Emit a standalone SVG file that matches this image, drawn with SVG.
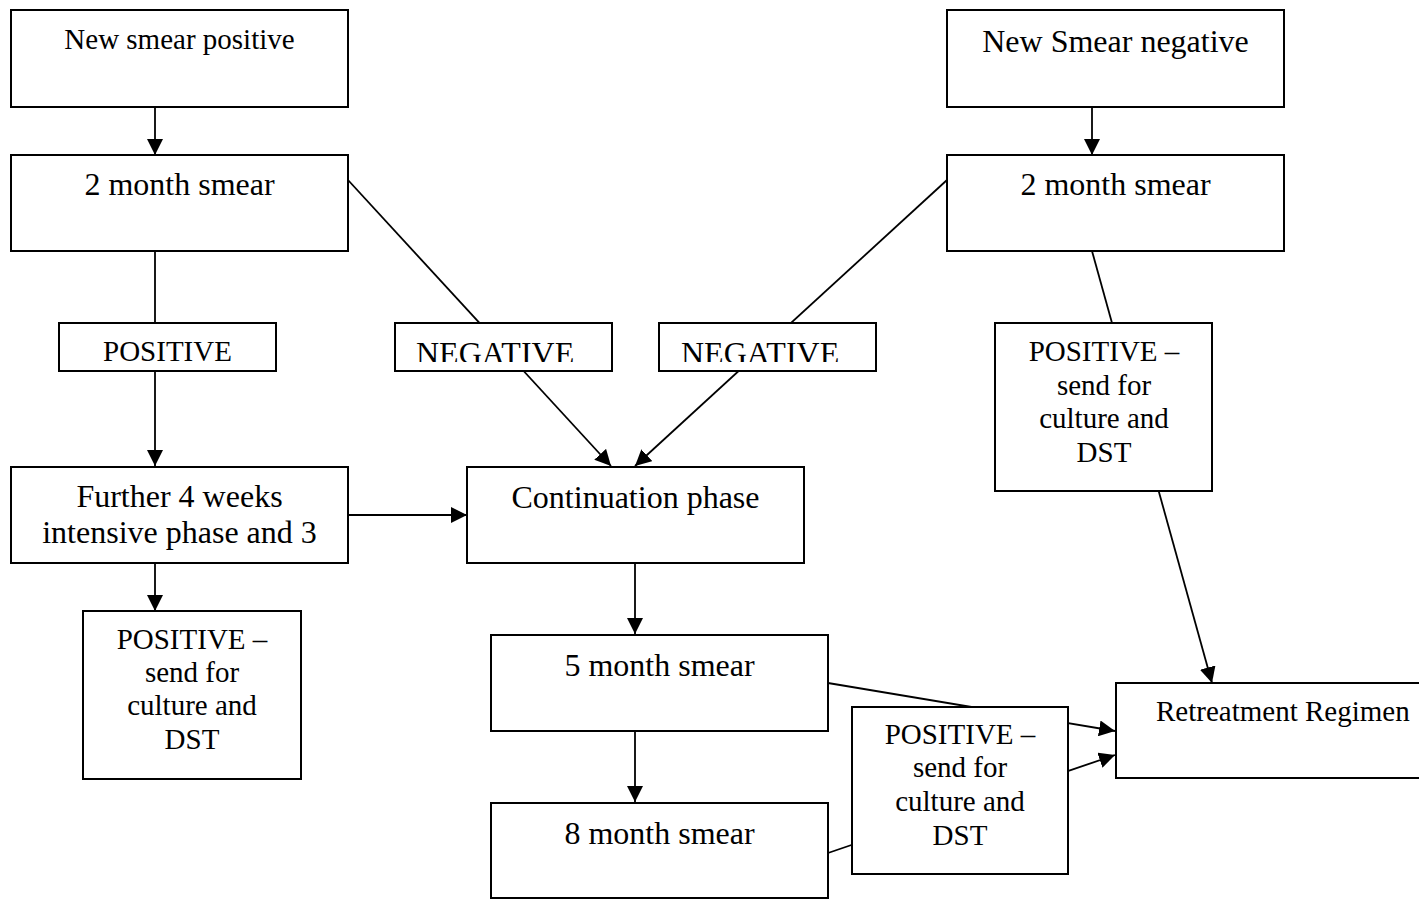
<svg xmlns="http://www.w3.org/2000/svg" width="1419" height="899" viewBox="0 0 1419 899">
<style>
  .box { fill: #ffffff; stroke: #000000; stroke-width: 2; }
  .t32 { font-family: "Liberation Serif", "Times New Roman", serif; font-size: 32px; fill: #000; }
  .t29 { font-family: "Liberation Serif", "Times New Roman", serif; font-size: 29px; fill: #000; }
  .c { text-anchor: middle; }
  .arr { stroke: #000; stroke-width: 1.8; fill: none; marker-end: url(#ah); }
</style>
<defs>
  <marker id="ah" markerUnits="userSpaceOnUse" markerWidth="17" markerHeight="16" refX="16" refY="8" orient="auto">
    <path d="M0,0 L16,8 L0,16 z" fill="#000"/>
  </marker>
  <clipPath id="clipNeg">
    <rect x="0" y="0" width="1419" height="362"/>
  </clipPath>
</defs>
<rect width="1419" height="899" fill="#ffffff"/>
<g id="connectors">
  <line class="arr" x1="155" y1="107" x2="155" y2="155"/>
  <line class="arr" x1="1092" y1="107" x2="1092" y2="155"/>
  <line class="arr" x1="155" y1="251" x2="155" y2="466"/>
  <line class="arr" x1="348" y1="180" x2="611" y2="466"/>
  <line class="arr" x1="947" y1="180" x2="635" y2="466"/>
  <line class="arr" x1="1092" y1="251" x2="1212" y2="683"/>
  <line class="arr" x1="348" y1="515" x2="467" y2="515"/>
  <line class="arr" x1="155" y1="563" x2="155" y2="611"/>
  <line class="arr" x1="635" y1="563" x2="635" y2="634"/>
  <line class="arr" x1="635" y1="730" x2="635" y2="802"/>
  <line class="arr" x1="828" y1="683" x2="1115" y2="731"/>
  <line class="arr" x1="828" y1="853" x2="1115" y2="755"/>
</g>
<g id="new-smear-positive">
  <rect class="box" x="11" y="10" width="337" height="97"/>
  <text class="t29 c" x="179.5" y="49">New smear positive</text>
</g>
<g id="new-smear-negative">
  <rect class="box" x="947" y="10" width="337" height="97"/>
  <text class="t32 c" x="1115.5" y="52">New Smear negative</text>
</g>
<g id="two-month-left">
  <rect class="box" x="11" y="155" width="337" height="96"/>
  <text class="t32 c" x="179.5" y="195">2 month smear</text>
</g>
<g id="two-month-right">
  <rect class="box" x="947" y="155" width="337" height="96"/>
  <text class="t32 c" x="1115.5" y="195">2 month smear</text>
</g>
<g id="positive-left">
  <rect class="box" x="59" y="323" width="217" height="48"/>
  <text class="t29 c" x="167.5" y="361">POSITIVE</text>
</g>
<g id="negative-left">
  <rect class="box" x="395" y="323" width="217" height="48"/>
  <text class="t32" x="416" y="364" clip-path="url(#clipNeg)">NEGATIVE</text>
</g>
<g id="negative-right">
  <rect class="box" x="659" y="323" width="217" height="48"/>
  <text class="t32" x="681" y="364" clip-path="url(#clipNeg)">NEGATIVE</text>
</g>
<g id="positive-right-top">
  <rect class="box" x="995" y="323" width="217" height="168"/>
  <text class="t29 c" x="1104" y="361">POSITIVE –</text>
  <text class="t29 c" x="1104" y="395">send for</text>
  <text class="t29 c" x="1104" y="428">culture and</text>
  <text class="t29 c" x="1104" y="462">DST</text>
</g>
<g id="further-4-weeks">
  <rect class="box" x="11" y="467" width="337" height="96"/>
  <text class="t32 c" x="179.5" y="507">Further 4 weeks</text>
  <text class="t32 c" x="179.5" y="543">intensive phase and 3</text>
</g>
<g id="continuation-phase">
  <rect class="box" x="467" y="467" width="337" height="96"/>
  <text class="t32 c" x="635.5" y="508">Continuation phase</text>
</g>
<g id="positive-left-bottom">
  <rect class="box" x="83" y="611" width="218" height="168"/>
  <text class="t29 c" x="192" y="649">POSITIVE –</text>
  <text class="t29 c" x="192" y="682">send for</text>
  <text class="t29 c" x="192" y="715">culture and</text>
  <text class="t29 c" x="192" y="749">DST</text>
</g>
<g id="five-month">
  <rect class="box" x="491" y="635" width="337" height="96"/>
  <text class="t32 c" x="659.5" y="676">5 month smear</text>
</g>
<g id="eight-month">
  <rect class="box" x="491" y="803" width="337" height="95"/>
  <text class="t32 c" x="659.5" y="844">8 month smear</text>
</g>
<g id="positive-mid-bottom">
  <rect class="box" x="852" y="707" width="216" height="167"/>
  <text class="t29 c" x="960" y="744">POSITIVE –</text>
  <text class="t29 c" x="960" y="777">send for</text>
  <text class="t29 c" x="960" y="811">culture and</text>
  <text class="t29 c" x="960" y="845">DST</text>
</g>
<g id="retreatment">
  <rect class="box" x="1116" y="683" width="334" height="95"/>
  <text class="t29" x="1156" y="721">Retreatment Regimen</text>
</g>
</svg>
